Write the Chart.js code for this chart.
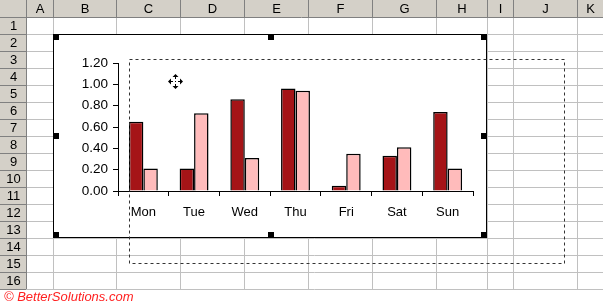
<!DOCTYPE html>
<html>
<head>
<meta charset="utf-8">
<script src="https://cdn.jsdelivr.net/npm/chart.js@4/dist/chart.umd.min.js"></script>
<style>
  html, body { margin: 0; padding: 0; background: #fff; }
  canvas { display: block; }
</style>
</head>
<body>
<canvas id="chart" width="603" height="304"></canvas>
<script>
// données du graphique
const days = ["Mon", "Tue", "Wed", "Thu", "Fri", "Sat", "Sun"];
const series1 = [0.65, 0.21, 0.86, 0.96, 0.05, 0.33, 0.74];
const series2 = [0.21, 0.73, 0.31, 0.94, 0.35, 0.41, 0.21];
const yTicks = [0, 0.2, 0.4, 0.6, 0.8, 1.0, 1.2];

// la feuille excel autour
const colLetters = ["A", "B", "C", "D", "E", "F", "G", "H", "I", "J", "K"];
const colEdges = [26, 53, 116, 180, 244, 308, 372, 436, 487, 513, 577, 603];
const rowCount = 16;

const FONT = "Liberation Sans, Arial, sans-serif";

const sheet = {
  id: "sheet",
  beforeDraw(chart) {
    const c = chart.ctx;
    const rowH = 17, top = 17;
    c.save();
    c.fillStyle = "#fff";
    c.fillRect(0, 0, 603, 304);
    // cell grid
    c.strokeStyle = "#c0c0c0";
    c.lineWidth = 1;
    c.beginPath();
    for (const x of colEdges) {
      c.moveTo(x + 0.5, top); c.lineTo(x + 0.5, top + rowH * rowCount);
    }
    for (let r = 1; r <= rowCount; r++) {
      c.moveTo(26, top + r * rowH + 0.5); c.lineTo(603, top + r * rowH + 0.5);
    }
    c.stroke();
    // headers
    c.fillStyle = "#d4d0c8";
    c.fillRect(0, 0, 603, top);
    c.fillRect(0, 0, 26, top + rowH * rowCount);
    c.strokeStyle = "#808080";
    c.beginPath();
    for (const x of colEdges) { c.moveTo(x + 0.5, 0); c.lineTo(x + 0.5, top); }
    for (let r = 0; r <= rowCount; r++) {
      c.moveTo(0, top + r * rowH + 0.5); c.lineTo(26, top + r * rowH + 0.5);
    }
    c.moveTo(0, top + 0.5); c.lineTo(603, top + 0.5);
    c.moveTo(26.5, 0); c.lineTo(26.5, top + rowH * rowCount);
    c.stroke();
    c.fillStyle = "#000";
    c.font = "13px " + FONT;
    c.textAlign = "center";
    c.textBaseline = "middle";
    colLetters.forEach((l, i) => {
      c.fillText(l, (colEdges[i] + colEdges[i + 1]) / 2 + 0.5, 9);
    });
    for (let r = 1; r <= rowCount; r++) {
      c.fillText(String(r), 13.5, top + (r - 0.5) * rowH + 1);
    }
    // chart object
    c.fillStyle = "#fff";
    c.fillRect(53, 34, 434, 204);
    c.strokeStyle = "#000";
    c.strokeRect(53.5, 34.5, 433, 203);
    c.restore();
  },
  afterDraw(chart) {
    const c = chart.ctx;
    c.save();
    // handles
    c.fillStyle = "#000";
    const hx = [53, 268, 481], hy = [34, 133, 232];
    hx.forEach((x, i) => hy.forEach((y, j) => {
      if (i === 1 && j === 1) return;
      c.fillRect(x, y, 6, 6);
    }));
    // dashed outline
    c.strokeStyle = "#333";
    c.setLineDash([3, 3]);
    c.strokeRect(129.5, 59.5, 435, 204);
    c.setLineDash([]);
    // move cursor
    const mx = 175, my = 81;
    c.strokeStyle = "#000";
    c.beginPath();
    c.moveTo(mx - 6, my + 0.5); c.lineTo(mx - 2, my + 0.5);
    c.moveTo(mx + 3, my + 0.5); c.lineTo(mx + 7, my + 0.5);
    c.moveTo(mx + 0.5, my - 6); c.lineTo(mx + 0.5, my - 2);
    c.moveTo(mx + 0.5, my + 3); c.lineTo(mx + 0.5, my + 7);
    c.stroke();
    c.fillRect(mx, my, 1, 1);
    c.beginPath();
    c.moveTo(mx - 7, my + 0.5); c.lineTo(mx - 4, my - 2.5); c.lineTo(mx - 4, my + 3.5); c.closePath();
    c.moveTo(mx + 8, my + 0.5); c.lineTo(mx + 5, my - 2.5); c.lineTo(mx + 5, my + 3.5); c.closePath();
    c.moveTo(mx + 0.5, my - 7); c.lineTo(mx - 2.5, my - 4); c.lineTo(mx + 3.5, my - 4); c.closePath();
    c.moveTo(mx + 0.5, my + 8); c.lineTo(mx - 2.5, my + 5); c.lineTo(mx + 3.5, my + 5); c.closePath();
    c.fill();
    // copyright
    c.fillStyle = "#ff2020";
    c.font = "italic 13px " + FONT;
    c.textAlign = "left";
    c.textBaseline = "middle";
    c.fillText("\u00A9 BetterSolutions.com", 4, 297);
    c.restore();
  }
};

new Chart(document.getElementById("chart").getContext("2d"), {
  type: "bar",
  data: {
    labels: days,
    datasets: [
      { data: series1, backgroundColor: "#a51417", borderColor: "#000", borderWidth: 1.5 },
      { data: series2, backgroundColor: "#ffbbbb", borderColor: "#000", borderWidth: 1.5 }
    ]
  },
  options: {
    responsive: false,
    devicePixelRatio: 1,
    animation: false,
    layout: { padding: { left: 53, right: 130, top: 63, bottom: 66 } },
    plugins: { legend: { display: false }, tooltip: { enabled: false } },
    datasets: { bar: { categoryPercentage: 0.57, barPercentage: 1.0 } },
    scales: {
      x: {
        afterFit: s => { s.height = 47; },
        grid: { drawOnChartArea: false, drawTicks: true, tickLength: 5, color: "#000", offset: true },
        border: { color: "#000", width: 1 },
        ticks: { color: "#000", font: { family: FONT, size: 13 }, padding: 9, maxRotation: 0 }
      },
      y: {
        min: 0,
        max: 1.2,
        afterFit: s => { s.width = 65; },
        afterBuildTicks: s => { s.ticks = yTicks.map(v => ({ value: v })); },
        grid: { drawOnChartArea: false, drawTicks: true, tickLength: 5, color: "#000" },
        border: { color: "#000", width: 1 },
        ticks: { color: "#000", font: { family: FONT, size: 13.5 }, padding: 5, callback: v => v.toFixed(2) }
      }
    }
  },
  plugins: [sheet]
});
</script>
</body>
</html>
